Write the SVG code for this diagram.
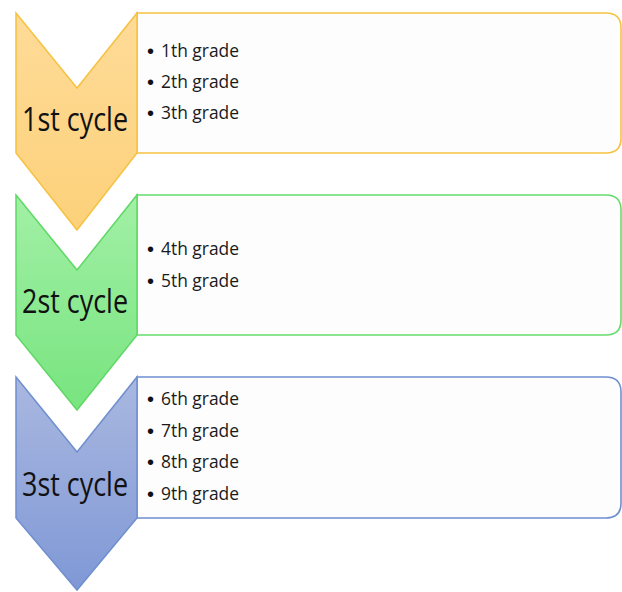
<svg xmlns="http://www.w3.org/2000/svg" width="622" height="592" viewBox="0 0 622 592">
<defs>
<linearGradient id="gO" x1="0" y1="0" x2="0" y2="1"><stop offset="0" stop-color="#fedb98"/><stop offset="1" stop-color="#fdd17a"/></linearGradient>
<linearGradient id="gG" x1="0" y1="0" x2="0" y2="1"><stop offset="0" stop-color="#a2f0a6"/><stop offset="1" stop-color="#78e47f"/></linearGradient>
<linearGradient id="gB" x1="0" y1="0" x2="0" y2="1"><stop offset="0" stop-color="#aab8e0"/><stop offset="1" stop-color="#7f98d6"/></linearGradient>
</defs>
<style>
.box{fill:#fdfdfd;stroke-width:1.6}
.chev{stroke-width:1.5}
.lbl{font-family:"Open Sans","Liberation Sans",sans-serif;font-size:32px;fill:#111}
.item{font-family:"Open Sans","Liberation Sans",sans-serif;font-size:18px;fill:#1a1a1a}
.bul{font-family:"Liberation Sans",sans-serif;font-size:20px;fill:#111}
</style>
<rect width="622" height="592" fill="#ffffff"/>
<g id="cycle1">
<path class="box" d="M137,13 H606 Q621,13 621,28 V138 Q621,153 606,153 H137 Z" stroke="#f5c242"/>
<path class="chev" d="M16,13 L77,88 L137,13 V153 L77,230 L16,153 Z" fill="url(#gO)" stroke="#f5c242"/>
<text class="lbl" x="22" y="131" textLength="106" lengthAdjust="spacingAndGlyphs">1st cycle</text>
<text class="bul" x="147" y="58">•</text><text class="item" x="161" y="57" textLength="78" lengthAdjust="spacingAndGlyphs">1th grade</text>
<text class="bul" x="147" y="89">•</text><text class="item" x="161" y="88" textLength="78" lengthAdjust="spacingAndGlyphs">2th grade</text>
<text class="bul" x="147" y="120">•</text><text class="item" x="161" y="119" textLength="78" lengthAdjust="spacingAndGlyphs">3th grade</text>
</g>
<g id="cycle2">
<path class="box" d="M137,195 H606 Q621,195 621,210 V320 Q621,335 606,335 H137 Z" stroke="#66db6c"/>
<path class="chev" d="M16,195 L77,270 L137,195 V335 L77,410 L16,335 Z" fill="url(#gG)" stroke="#5fd865"/>
<text class="lbl" x="22" y="313" textLength="106" lengthAdjust="spacingAndGlyphs">2st cycle</text>
<text class="bul" x="147" y="256">•</text><text class="item" x="161" y="255" textLength="78" lengthAdjust="spacingAndGlyphs">4th grade</text>
<text class="bul" x="147" y="288">•</text><text class="item" x="161" y="287" textLength="78" lengthAdjust="spacingAndGlyphs">5th grade</text>
</g>
<g id="cycle3">
<path class="box" d="M137,377 H606 Q621,377 621,392 V503 Q621,518 606,518 H137 Z" stroke="#6f8fcf"/>
<path class="chev" d="M16,377 L77,452 L137,377 V518 L77,590 L16,518 Z" fill="url(#gB)" stroke="#6f8fcf"/>
<text class="lbl" x="22" y="496" textLength="106" lengthAdjust="spacingAndGlyphs">3st cycle</text>
<text class="bul" x="147" y="406">•</text><text class="item" x="161" y="405" textLength="78" lengthAdjust="spacingAndGlyphs">6th grade</text>
<text class="bul" x="147" y="438">•</text><text class="item" x="161" y="437" textLength="78" lengthAdjust="spacingAndGlyphs">7th grade</text>
<text class="bul" x="147" y="469">•</text><text class="item" x="161" y="468" textLength="78" lengthAdjust="spacingAndGlyphs">8th grade</text>
<text class="bul" x="147" y="501">•</text><text class="item" x="161" y="500" textLength="78" lengthAdjust="spacingAndGlyphs">9th grade</text>
</g>
<g id="connectors"></g>
</svg>
